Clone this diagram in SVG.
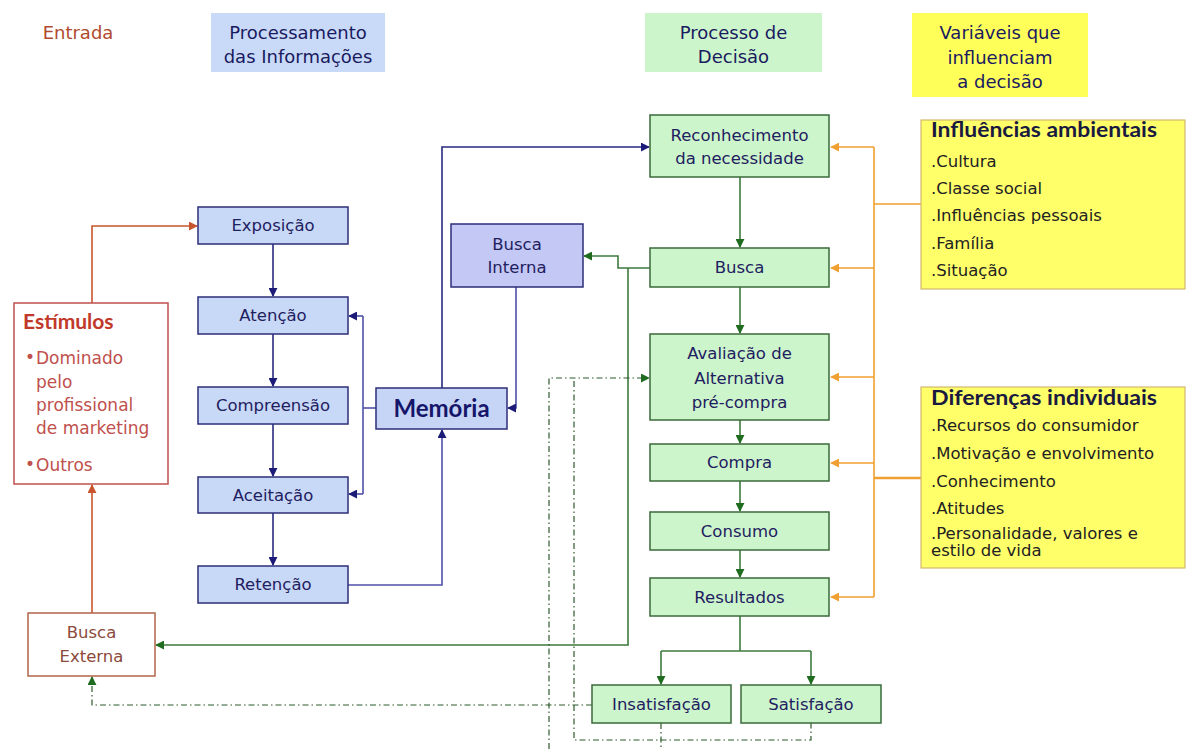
<svg xmlns="http://www.w3.org/2000/svg" width="1188" height="749" viewBox="0 0 1188 749">
<defs>
<marker id="aN" viewBox="0 0 10 10" refX="9" refY="5" markerWidth="9" markerHeight="9" markerUnits="userSpaceOnUse" orient="auto"><path d="M0,0 L10,5 L0,10 z" fill="#1c1c78"/></marker>
<marker id="aG" viewBox="0 0 10 10" refX="9" refY="5" markerWidth="9" markerHeight="9" markerUnits="userSpaceOnUse" orient="auto"><path d="M0,0 L10,5 L0,10 z" fill="#1f6b1f"/></marker>
<marker id="aO" viewBox="0 0 10 10" refX="9" refY="5" markerWidth="9" markerHeight="9" markerUnits="userSpaceOnUse" orient="auto"><path d="M0,0 L10,5 L0,10 z" fill="#f0a030"/></marker>
<marker id="aR" viewBox="0 0 10 10" refX="9" refY="5" markerWidth="9" markerHeight="9" markerUnits="userSpaceOnUse" orient="auto"><path d="M0,0 L10,5 L0,10 z" fill="#c8552e"/></marker>
</defs>
<style>
text{font-family:"DejaVu Sans","Liberation Sans",sans-serif;}
.t{font-size:16.5px;fill:#1f2060;text-anchor:middle;}
.h{font-size:18px;fill:#1a1a60;text-anchor:middle;}
.bn{fill:#c8d9f7;stroke:#2e2e7a;stroke-width:1.5;}
.gn{fill:#ccf5cc;stroke:#3a6a3a;stroke-width:1.5;}
.yn{fill:#ffff6a;stroke:#d2b870;stroke-width:1.2;}
.yt{font-size:16.5px;fill:#222;}
.yb{font-size:20px;font-weight:bold;fill:#1a1a40;font-family:Lato,"DejaVu Sans",sans-serif;}
.cn{fill:none;stroke:#2a2a80;stroke-width:1.6;}
.cp{fill:none;stroke:#5050a8;stroke-width:1.6;}
.cg{fill:none;stroke:#3d7a3d;stroke-width:1.6;}
.cd{fill:none;stroke:#2d5a2d;stroke-width:1.2;stroke-dasharray:6,3,1.5,3;}
.co{fill:none;stroke:#f0a030;stroke-width:1.6;}
.cr{fill:none;stroke:#c8552e;stroke-width:1.6;}
.st{font-size:17px;fill:#c0504d;}
</style>
<rect width="1188" height="749" fill="#ffffff"/>

<g id="headers">
<text x="78" y="39" style="font-size:18px;fill:#b04a2e;text-anchor:middle">Entrada</text>
<rect x="211" y="13" width="174" height="59" fill="#c9daf8"/>
<text class="h" x="298" y="39">Processamento</text>
<text class="h" x="298" y="63">das Informações</text>
<rect x="645" y="13" width="177" height="59" fill="#ccf5cc"/>
<text class="h" x="733.5" y="39">Processo de</text>
<text class="h" x="733.5" y="63">Decisão</text>
<rect x="912" y="13" width="176" height="84" fill="#ffff5a"/>
<text class="h" x="1000" y="39">Variáveis que</text>
<text class="h" x="1000" y="64">influenciam</text>
<text class="h" x="1000" y="88">a decisão</text>
</g>

<g id="connectors">
<path class="cn" d="M273,244 V296" marker-end="url(#aN)"/>
<path class="cn" d="M273,334 V386" marker-end="url(#aN)"/>
<path class="cn" d="M273,424 V476" marker-end="url(#aN)"/>
<path class="cn" d="M273,513 V565" marker-end="url(#aN)"/>
<path class="cp" d="M376,408 H363"/>
<path class="cp" d="M363,316 V494"/>
<path class="cp" d="M363,316 H349" marker-end="url(#aN)"/>
<path class="cp" d="M363,494 H349" marker-end="url(#aN)"/>
<path class="cp" d="M348,585 H442 V430" marker-end="url(#aN)"/>
<path class="cn" d="M442,388 V147 H649" marker-end="url(#aN)"/>
<path class="cp" d="M516,287 V408 H508" marker-end="url(#aN)"/>
<path class="cg" d="M740,177 V247" marker-end="url(#aG)"/>
<path class="cg" d="M740,287 V333" marker-end="url(#aG)"/>
<path class="cg" d="M740,420 V443" marker-end="url(#aG)"/>
<path class="cg" d="M740,481 V511" marker-end="url(#aG)"/>
<path class="cg" d="M740,550 V577" marker-end="url(#aG)"/>
<path class="cg" d="M740,616 V651"/>
<path class="cg" d="M661,651 H811"/>
<path class="cg" d="M661,651 V684" marker-end="url(#aG)"/>
<path class="cg" d="M811,651 V684" marker-end="url(#aG)"/>
<path class="cg" d="M650,268 H618 V256 H584" marker-end="url(#aG)"/>
<path class="cg" d="M628,268 V645 H156" marker-end="url(#aG)"/>
<path class="cd" d="M549,749 V378 H649" marker-end="url(#aG)"/>
<path class="cd" d="M574,381 V740 H811 V723"/>
<path class="cd" d="M661,723 V749"/>
<path class="cd" d="M592,705 H92 V677" marker-end="url(#aG)"/>
<path class="co" d="M874,147 V597"/>
<path class="co" d="M874,147 H831" marker-end="url(#aO)"/>
<path class="co" d="M874,268 H831" marker-end="url(#aO)"/>
<path class="co" d="M874,377 H831" marker-end="url(#aO)"/>
<path class="co" d="M874,463 H831" marker-end="url(#aO)"/>
<path class="co" d="M874,597 H831" marker-end="url(#aO)"/>
<path class="co" d="M874,204 H921"/>
<path class="co" d="M874,478 H921" style="stroke-width:2.4"/>
<path class="cr" d="M92,303 V226 H197" marker-end="url(#aR)"/>
<path class="cr" d="M92,613 V485" marker-end="url(#aR)"/>
</g>

<g id="exposicao"><rect class="bn" x="198" y="207" width="150" height="37"/><text class="t" x="273" y="231">Exposição</text></g>
<g id="atencao"><rect class="bn" x="198" y="297" width="150" height="37"/><text class="t" x="273" y="321">Atenção</text></g>
<g id="compreensao"><rect class="bn" x="198" y="387" width="150" height="37"/><text class="t" x="273" y="411">Compreensão</text></g>
<g id="aceitacao"><rect class="bn" x="198" y="477" width="150" height="36"/><text class="t" x="273" y="501">Aceitação</text></g>
<g id="retencao"><rect class="bn" x="198" y="566" width="150" height="37"/><text class="t" x="273" y="590">Retenção</text></g>
<g id="memoria"><rect class="bn" x="376" y="388" width="131" height="41" style="fill:#c6d4f5"/><text x="441.5" y="417" style="font-family:Lato,'DejaVu Sans',sans-serif;font-weight:bold;font-size:24px;fill:#15156a;text-anchor:middle">Memória</text></g>
<g id="busca-interna"><rect class="bn" x="451" y="224" width="132" height="63" style="fill:#c3c8f4"/><text class="t" x="517" y="250">Busca</text><text class="t" x="517" y="273">Interna</text></g>

<g id="estimulos"><rect x="14" y="303" width="154" height="181" fill="#ffffff" stroke="#c0504d" stroke-width="1.5"/>
<text x="23" y="329" style="font-family:Lato,'DejaVu Sans',sans-serif;font-weight:bold;font-size:21px;fill:#c0392b">Estímulos</text>
<text class="st" x="25" y="363">•</text><text class="st" x="36" y="364">Dominado</text>
<text class="st" x="36" y="388">pelo</text>
<text class="st" x="36" y="411">profissional</text>
<text class="st" x="36" y="434">de marketing</text>
<text class="st" x="25" y="470">•</text><text class="st" x="36" y="471">Outros</text>
</g>
<g id="busca-externa"><rect x="28" y="613" width="127" height="63" fill="#ffffff" stroke="#b0664a" stroke-width="1.5"/><text x="91.5" y="638" style="font-size:16.5px;fill:#8b4a3a;text-anchor:middle">Busca</text><text x="91.5" y="662" style="font-size:16.5px;fill:#8b4a3a;text-anchor:middle">Externa</text></g>

<g id="reconhecimento"><rect class="gn" x="650" y="115" width="179" height="62"/><text class="t" x="739.5" y="141">Reconhecimento</text><text class="t" x="739.5" y="164">da necessidade</text></g>
<g id="busca"><rect class="gn" x="650" y="248" width="179" height="39"/><text class="t" x="739.5" y="273">Busca</text></g>
<g id="avaliacao"><rect class="gn" x="650" y="334" width="179" height="86"/><text class="t" x="739.5" y="359">Avaliação de</text><text class="t" x="739.5" y="384">Alternativa</text><text class="t" x="739.5" y="408">pré-compra</text></g>
<g id="compra"><rect class="gn" x="650" y="444" width="179" height="37"/><text class="t" x="739.5" y="468">Compra</text></g>
<g id="consumo"><rect class="gn" x="650" y="512" width="179" height="38"/><text class="t" x="739.5" y="537">Consumo</text></g>
<g id="resultados"><rect class="gn" x="650" y="578" width="179" height="38"/><text class="t" x="739.5" y="603">Resultados</text></g>
<g id="insatisfacao"><rect class="gn" x="592" y="685" width="139" height="38"/><text class="t" x="661.5" y="710">Insatisfação</text></g>
<g id="satisfacao"><rect class="gn" x="741" y="685" width="140" height="38"/><text class="t" x="811" y="710">Satisfação</text></g>

<g id="influencias-ambientais"><rect class="yn" x="921" y="120" width="264" height="169"/>
<text class="yb" x="931" y="137" textLength="226" lengthAdjust="spacingAndGlyphs">Influências ambientais</text>
<text class="yt" x="931" y="167">.Cultura</text>
<text class="yt" x="931" y="194">.Classe social</text>
<text class="yt" x="931" y="221">.Influências pessoais</text>
<text class="yt" x="931" y="249">.Família</text>
<text class="yt" x="931" y="276">.Situação</text>
</g>
<g id="diferencas-individuais"><rect class="yn" x="921" y="387" width="264" height="181"/>
<text class="yb" x="931" y="405" textLength="226" lengthAdjust="spacingAndGlyphs">Diferenças individuais</text>
<text class="yt" x="931" y="431">.Recursos do consumidor</text>
<text class="yt" x="931" y="459">.Motivação e envolvimento</text>
<text class="yt" x="931" y="487">.Conhecimento</text>
<text class="yt" x="931" y="514">.Atitudes</text>
<text class="yt" x="931" y="539">.Personalidade, valores e</text>
<text class="yt" x="931" y="556">estilo de vida</text>
</g>
</svg>
